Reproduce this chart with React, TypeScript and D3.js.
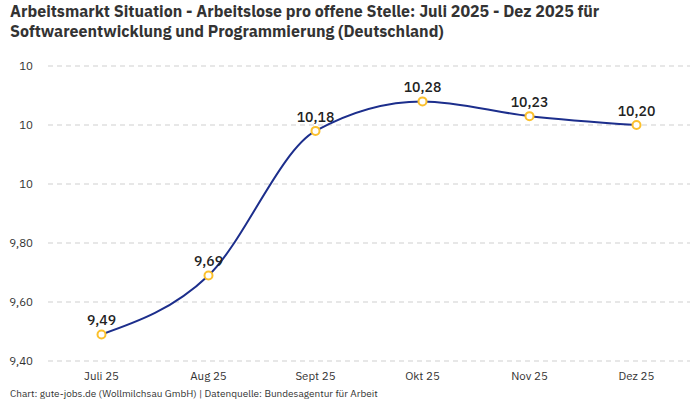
import * as React from 'react';
import * as d3 from 'd3';

const months = ['Juli 25', 'Aug 25', 'Sept 25', 'Okt 25', 'Nov 25', 'Dez 25'];
const values = [9.49, 9.69, 10.18, 10.28, 10.23, 10.2];
const valueLabels = ['9,49', '9,69', '10,18', '10,28', '10,23', '10,20'];
const yTicks = [9.4, 9.6, 9.8, 10.0, 10.2, 10.4];
const yTickLabels = ['9,40', '9,60', '9,80', '10', '10', '10'];

const titleLines = [
  'Arbeitsmarkt Situation - Arbeitslose pro offene Stelle: Juli 2025 - Dez 2025 für',
  'Softwareentwicklung und Programmierung (Deutschland)',
];
const footer =
  'Chart: gute-jobs.de (Wollmilchsau GmbH) | Datenquelle: Bundesagentur für Arbeit';

const dimensions = { width: 700, height: 400 };
const margin = { top: 66, left: 48, right: 10, bottom: 39 };

const font = "'IBM Plex Sans', Roboto, 'Noto Sans', sans-serif";

const App: React.FC = () => {
  const x = d3
    .scalePoint(months, [margin.left, dimensions.width - margin.right])
    .padding(0.5);
  const y = d3.scaleLinear(
    [9.4, 10.4],
    [dimensions.height - margin.bottom, margin.top]
  );

  const line = d3
    .line<number>()
    .x((_, i) => x(months[i]) as number)
    .y((d) => y(d))
    .curve(d3.curveMonotoneX);

  return (
    <svg
      width={dimensions.width}
      height={dimensions.height}
      viewBox={`0 0 ${dimensions.width} ${dimensions.height}`}
      style={{ position: 'absolute', left: 0, top: 0, background: '#fff' }}
      fontFamily={font}
    >
      {titleLines.map((t, i) => (
        <text
          key={i}
          x={10}
          y={17 + i * 20}
          fontSize={16}
          fontWeight={700}
          fill="#333"
        >
          {t}
        </text>
      ))}

      <g>
        {yTicks.map((t, i) => (
          <g key={t}>
            <line
              x1={margin.left}
              x2={dimensions.width - margin.right}
              y1={y(t)}
              y2={y(t)}
              stroke="#cfcfcf"
              strokeDasharray="5 4"
            />
            <text
              x={33}
              y={y(t)}
              dy="0.35em"
              textAnchor="end"
              fontSize={11.5}
              fill="#333"
            >
              {yTickLabels[i]}
            </text>
          </g>
        ))}
      </g>

      <g>
        {months.map((m) => (
          <text
            key={m}
            x={x(m)}
            y={380}
            textAnchor="middle"
            fontSize={11.5}
            fill="#333"
          >
            {m}
          </text>
        ))}
      </g>

      <path
        d={line(values) ?? ''}
        fill="none"
        stroke="#1c2e8c"
        strokeWidth={2}
      />

      <g>
        {values.map((v, i) => (
          <g key={months[i]}>
            <circle
              cx={x(months[i])}
              cy={y(v)}
              r={4}
              fill="#fff"
              stroke="#fbc02d"
              strokeWidth={2}
            />
            <text
              x={x(months[i])}
              y={y(v) - 9}
              textAnchor="middle"
              fontSize={14}
              fontWeight={500}
              fill="#222"
            >
              {valueLabels[i]}
            </text>
          </g>
        ))}
      </g>

      <text x={10} y={397} fontSize={10} fill="#333">
        {footer}
      </text>
    </svg>
  );
};

export default App;
